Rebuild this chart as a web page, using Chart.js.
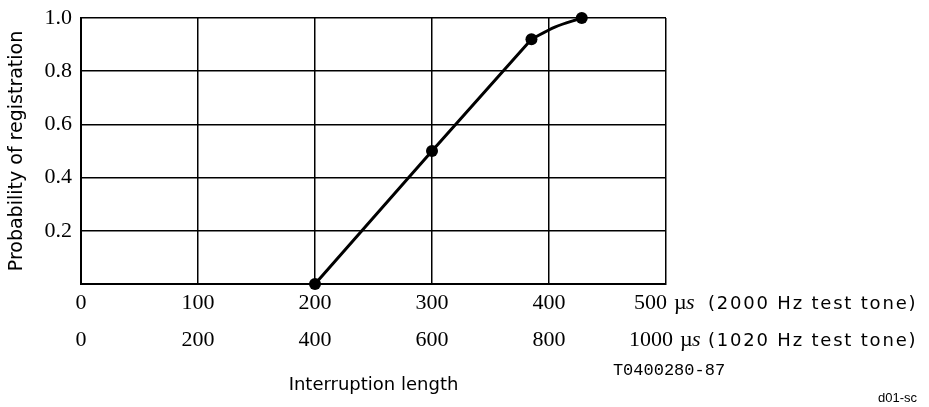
<!DOCTYPE html>
<html>
<head>
<meta charset="utf-8">
<script src="https://cdn.jsdelivr.net/npm/chart.js@4/dist/chart.umd.min.js"></script>
<style>
  html, body { margin: 0; padding: 0; background: #fff; }
  #wrap { width: 929px; height: 407px; position: relative; }
</style>
</head>
<body>
<div id="wrap"><canvas id="c"></canvas></div>
<script>
// interruption length in µs (2000 Hz scale) vs probability of registration
const LENGTHS = [200, 300, 385];
const PROBS = [0, 0.5, 0.92];
// the bend at the top
const TOP_LENGTHS = [385, 405, 428];
const TOP_PROBS = [0.92, 0.966, 1.0];
const TICKS_2000 = ['0', '100', '200', '300', '400', '500'];
const TICKS_1020 = ['0', '200', '400', '600', '800', '1000'];
const Y_TICKS = ['0.2', '0.4', '0.6', '0.8', '1.0'];

const SERIF = '"Liberation Serif", serif';
const SANS = '"DejaVu Sans", sans-serif';

// right-hand unit / tone labels, code number and sheet tag
const extraText = {
  id: 'extraText',
  afterDraw(chart) {
    const ctx = chart.ctx;
    const px = chart.scales.x.getPixelForValue(500);
    ctx.save();
    ctx.fillStyle = '#000';
    ctx.textBaseline = 'middle';
    const rows = [[TICKS_2000[5], '(2000 Hz test tone)', 303, 1], [TICKS_1020[5], '(1020 Hz test tone)', 340, 7]];
    rows.forEach(([num, tone, y, dx]) => {
      ctx.letterSpacing = '0px';
      ctx.font = '22px ' + SERIF;
      ctx.textAlign = 'right';
      ctx.fillText(num, px + dx, y);
      ctx.textAlign = 'left';
      ctx.fillText('\u00b5', px + dx + 7, y);
      ctx.font = 'italic 22px ' + SERIF;
      ctx.fillText('s', px + dx + 19, y);
      ctx.font = '18px ' + SANS;
      ctx.letterSpacing = '1.8px';
      ctx.fillText(tone, 708, y + 1);
    });
    ctx.letterSpacing = '0px';
    ctx.font = '17px "Liberation Mono", monospace';
    ctx.textAlign = 'center';
    ctx.fillText('T0400280-87', px + 3, 370);
    ctx.font = '13px "Liberation Sans", sans-serif';
    ctx.textAlign = 'right';
    ctx.fillText('d01-sc', 917, 398);
    ctx.restore();
  }
};

new Chart(document.getElementById('c'), {
  type: 'line',
  data: {
    datasets: [{
      data: LENGTHS.map((v, i) => ({ x: v, y: PROBS[i] })),
      borderColor: '#000', backgroundColor: '#000', borderWidth: 3,
      pointRadius: 6, pointBackgroundColor: '#000', pointBorderWidth: 0,
      tension: 0, clip: false,
    }, {
      data: TOP_LENGTHS.map((v, i) => ({ x: v, y: TOP_PROBS[i] })),
      borderColor: '#000', backgroundColor: '#000', borderWidth: 3,
      pointRadius: [0, 0, 6], pointBackgroundColor: '#000', pointBorderWidth: 0,
      cubicInterpolationMode: 'monotone', clip: false,
    }],
  },
  options: {
    responsive: true, maintainAspectRatio: false, animation: false,
    layout: { padding: { top: 18, right: 263, left: 0, bottom: 0 } },
    plugins: { legend: { display: false }, tooltip: { enabled: false } },
    scales: {
      x: {
        type: 'linear', min: 0, max: 500,
        afterFit: (s) => { s.height = 123; },
        grid: { color: '#000', lineWidth: 1.5, drawTicks: false },
        border: { color: '#000', width: 2 },
        ticks: {
          stepSize: 100, padding: 1, color: '#000',
          font: { family: SERIF, size: 22, lineHeight: 1.68 },
          callback: (v, i) => (i < 5 ? [TICKS_2000[i], TICKS_1020[i]] : ''),
        },
        title: { display: true, text: 'Interruption length', color: '#000', font: { family: SANS, size: 18 }, padding: { top: 0, bottom: 11 } },
      },
      y: {
        min: 0, max: 1,
        afterFit: (s) => { s.width = 81; },
        grid: { color: '#000', lineWidth: 1.5, drawTicks: false },
        border: { color: '#000', width: 2 },
        ticks: {
          stepSize: 0.2, padding: 9, color: '#000',
          font: { family: SERIF, size: 22, lineHeight: 0.6 },
          callback: (v, i) => (i === 0 ? '' : Y_TICKS[i - 1]),
        },
        title: { display: true, text: 'Probability of registration', color: '#000', font: { family: SANS, size: 19 }, padding: { top: 6, bottom: 0 } },
      },
    },
  },
  plugins: [extraText],
});
</script>
</body>
</html>
